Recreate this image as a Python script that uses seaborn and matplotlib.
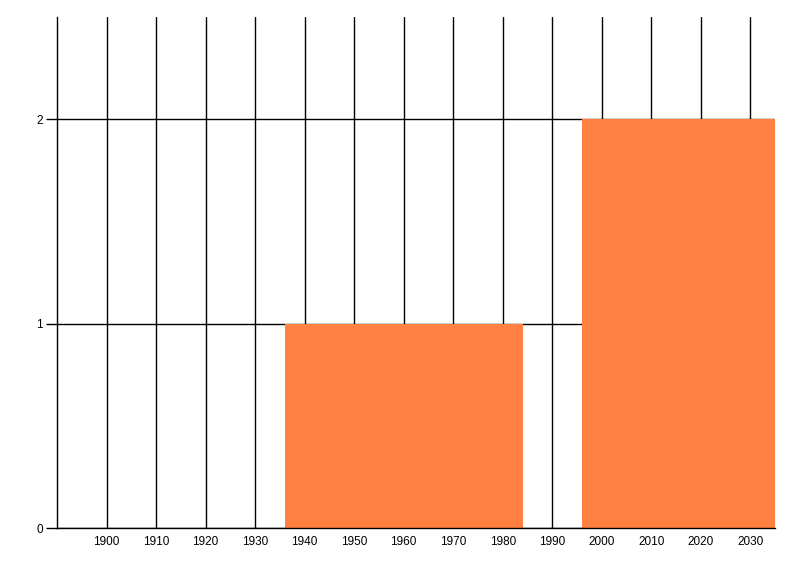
import numpy as np
import seaborn as sns
import matplotlib.pyplot as plt

# data
bin_centers = [1960, 2020]
counts = [1, 2]
bin_edges = [1936, 1984, 1996, 2044]
x_ticks = list(range(1900, 2031, 10))
y_ticks = [0, 1, 2]

sns.set_style('white')
plt.rcParams['font.family'] = ['Liberation Sans', 'DejaVu Sans']

fig = plt.figure(figsize=(8, 5.76), dpi=100)
ax = fig.add_axes([0.0713, 0.0833, 0.8975, 0.8872])

sns.histplot(x=bin_centers, weights=counts, bins=bin_edges, ax=ax,
             color='#FF8041', alpha=1, linewidth=0, zorder=3)

ax.set_xlim(1890, 2035)
ax.set_ylim(0, 2.5)
ax.set_xticks(x_ticks)
ax.set_yticks(y_ticks)
ax.set_xlabel('')
ax.set_ylabel('')

ax.grid(True, color='black', linewidth=1)
ax.set_axisbelow(True)
for s in ['top', 'right']:
    ax.spines[s].set_visible(False)
for s in ['left', 'bottom']:
    ax.spines[s].set_color('black')
    ax.spines[s].set_linewidth(1)
    ax.spines[s].set_zorder(4)

ax.tick_params(axis='x', length=0, labelsize=8.5, pad=6, colors='black')
ax.tick_params(axis='y', length=8, width=1, labelsize=8.5, pad=2, colors='black', left=True)

fig.savefig('out.png', dpi=100)
